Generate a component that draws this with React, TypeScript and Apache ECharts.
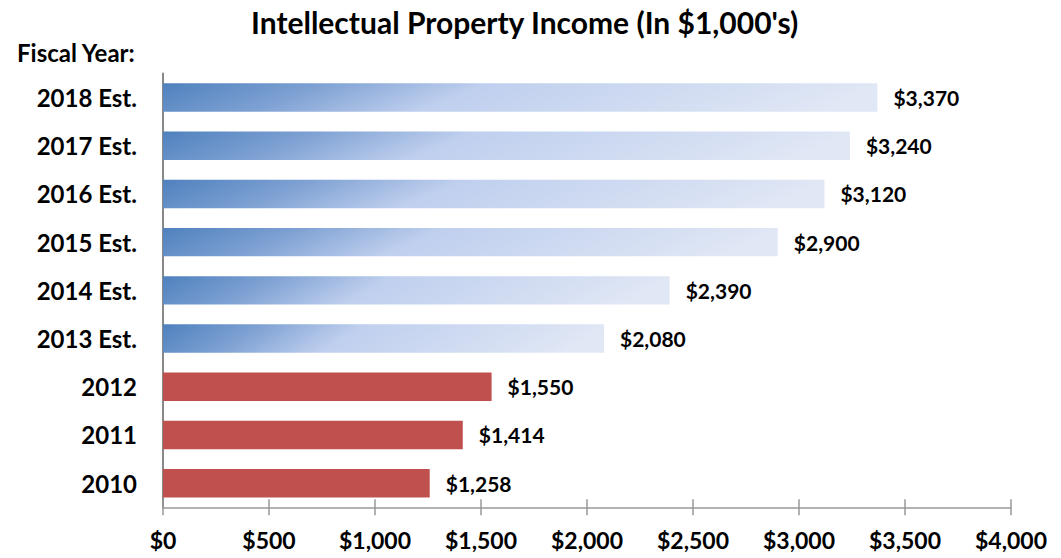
import React, { useEffect, useRef } from "react";
import * as echarts from "echarts";

const categories = ["2010", "2011", "2012", "2013 Est.", "2014 Est.", "2015 Est.", "2016 Est.", "2017 Est.", "2018 Est."];
const values = [1258, 1414, 1550, 2080, 2390, 2900, 3120, 3240, 3370];
const isEstimate = [false, false, false, true, true, true, true, true, true];
const axisMin = 0;
const axisMax = 4000;
const axisStep = 500;

const FONT = "Lato, 'Open Sans', sans-serif";

export default function App() {
  const ref = useRef<HTMLDivElement>(null);
  useEffect(() => {
    if (!ref.current) return;
    const chart = echarts.init(ref.current, null, { renderer: "svg" });
    const blueGrad = new echarts.graphic.LinearGradient(0, 0, 1, 0.1, [
      { offset: 0, color: "#4F81BD" },
      { offset: 0.22, color: "#7EA1D3" },
      { offset: 0.45, color: "#BFCFEE" },
      { offset: 1, color: "#E0E7F5" },
    ]);
    const money = (v: number) => "$" + v.toLocaleString("en-US");
    chart.setOption({
      animation: false,
      backgroundColor: "#ffffff",
      title: [
        {
          text: "Intellectual Property Income (In $1,000's)",
          left: 246,
          top: 2,
          textStyle: { fontFamily: FONT, fontWeight: "bold", fontSize: 30, color: "#000" },
        },
        {
          text: "Fiscal Year:",
          left: 12,
          top: 35,
          textStyle: { fontFamily: FONT, fontWeight: "bold", fontSize: 24, color: "#000" },
        },
      ],
      grid: { left: 163, right: 50, top: 73.4, bottom: 50.7, containLabel: false },
      xAxis: [
        {
          type: "value",
          min: axisMin,
          max: axisMax,
          interval: axisStep,
          position: "bottom",
          axisLine: { show: true, lineStyle: { color: "#999999", width: 1.5 } },
          axisTick: { show: true, length: 8, lineStyle: { color: "#999999", width: 1.5 } },
          splitLine: { show: false },
          axisLabel: {
            margin: 21,
            fontFamily: FONT,
            fontWeight: "bold",
            fontSize: 23,
            color: "#000",
            formatter: (v: number) => money(v),
          },
        },
        {
          type: "value",
          min: axisMin,
          max: axisMax,
          interval: axisStep,
          position: "bottom",
          axisLine: { show: false },
          axisTick: { show: true, inside: true, length: 8, lineStyle: { color: "#999999", width: 1.5 } },
          splitLine: { show: false },
          axisLabel: { show: false },
        },
      ],
      yAxis: {
        type: "category",
        data: categories,
        axisLine: { show: true, lineStyle: { color: "#888888", width: 2 } },
        axisTick: { show: false },
        axisLabel: {
          margin: 26,
          fontFamily: FONT,
          fontWeight: "bold",
          fontSize: 24,
          color: "#000",
        },
      },
      series: [
        {
          type: "bar",
          xAxisIndex: 0,
          barCategoryGap: "41%",
          data: values.map((v, i) => ({
            value: v,
            itemStyle: { color: isEstimate[i] ? blueGrad : "#C0504D" },
          })),
          label: {
            show: true,
            position: "right",
            distance: 16,
            fontFamily: FONT,
            fontWeight: "bold",
            fontSize: 21,
            color: "#000",
            formatter: (p: any) => money(p.value),
          },
        },
      ],
    });
    return () => chart.dispose();
  }, []);
  return <div ref={ref} style={{ position: "fixed", left: 0, top: 0, width: 1061, height: 558 }} />;
}
